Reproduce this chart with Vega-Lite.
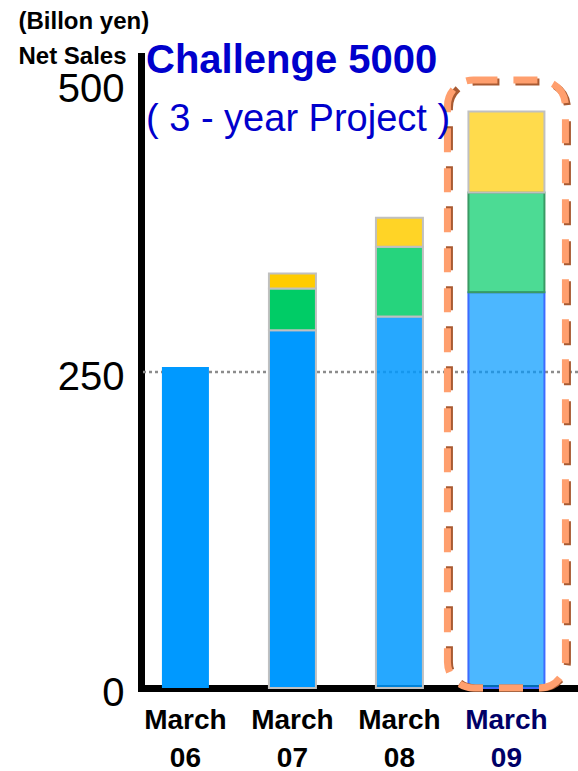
{
  "$schema": "https://vega.github.io/schema/vega-lite/v6.json",
  "width": 437,
  "height": 632,
  "autosize": {"type": "none"},
  "padding": {"left": 141, "top": 56, "right": 0, "bottom": 83},
  "background": "white",
  "config": {"view": {"stroke": null}, "font": "Liberation Sans"},
  "title": {
    "text": "Challenge 5000",
    "subtitle": "( 3 - year Project )",
    "anchor": "start",
    "frame": "group",
    "orient": "top",
    "offset": -130,
    "dx": 5,
    "font": "Liberation Sans",
    "fontSize": 40,
    "fontWeight": "bold",
    "color": "#0000CC",
    "subtitleFont": "Liberation Sans",
    "subtitleFontSize": 38,
    "subtitleFontWeight": "normal",
    "subtitleColor": "#0000CC",
    "subtitlePadding": 20
  },
  "datasets": {
    "sales": [
      {"period": "March 06", "segment": "Core", "phase": "actual", "value": 254},
      {"period": "March 07", "segment": "Core", "phase": "actual", "value": 283},
      {"period": "March 07", "segment": "Growth", "phase": "actual", "value": 33},
      {"period": "March 07", "segment": "New", "phase": "actual", "value": 12},
      {"period": "March 08", "segment": "Core", "phase": "estimate", "value": 294},
      {"period": "March 08", "segment": "Growth", "phase": "estimate", "value": 55},
      {"period": "March 08", "segment": "New", "phase": "estimate", "value": 23},
      {"period": "March 09", "segment": "Core", "phase": "target", "value": 313},
      {"period": "March 09", "segment": "Growth", "phase": "target", "value": 79},
      {"period": "March 09", "segment": "New", "phase": "target", "value": 64}
    ],
    "ref": [{"value": 250}],
    "focus": [{"period": "March 09", "value": 481, "bottom": 0}]
  },
  "layer": [
    {
      "data": {"name": "ref"},
      "mark": {"type": "rule", "color": "#8c8c8c", "strokeDash": [3, 3], "strokeWidth": 2.5},
      "encoding": {
        "y": {"field": "value", "type": "quantitative", "scale": {"domain": [0, 500], "nice": false}}
      }
    },
    {
      "data": {"name": "sales"},
      "mark": {"type": "bar"},
      "encoding": {
        "x": {
          "field": "period", "type": "nominal",
          "scale": {"domain": ["March 06", "March 07", "March 08", "March 09"], "paddingInner": 0.55, "paddingOuter": 0.317, "align": 0.3},
          "axis": {
            "title": null,
            "labelExpr": "split(datum.label, ' ')",
            "labelAngle": 0,
            "labelFont": "Liberation Sans",
            "labelFontSize": 28,
            "labelFontWeight": "bold",
            "labelColor": {"condition": {"test": "datum.value === 'March 09'", "value": "#000066"}, "value": "#000000"},
            "labelLineHeight": 38,
            "labelPadding": 18,
            "labelBaseline": "top",
            "ticks": false,
            "domainColor": "#000000",
            "domainWidth": 7,
            "domainCap": "square"
          }
        },
        "y": {
          "field": "value", "type": "quantitative", "stack": "zero",
          "scale": {"domain": [0, 500], "nice": false},
          "axis": {
            "values": [0, 250, 500],
            "ticks": false,
            "grid": false,
            "labelFont": "Liberation Sans",
            "labelFontSize": 40,
            "labelColor": "#000000",
            "labelPadding": 17,
            "labelOverlap": false,
            "labelOffset": {"condition": {"test": "datum.value === 500", "value": 33}, "value": 5},
            "domainColor": "#000000",
            "domainWidth": 7,
            "domainCap": "square",
            "title": ["(Billon yen)", "Net Sales"],
            "titleAngle": 0,
            "titleAlign": "left",
            "titleBaseline": "alphabetic",
            "titleX": -123,
            "titleY": -28,
            "titleFont": "Liberation Sans",
            "titleFontSize": 24,
            "titleFontWeight": "bold",
            "titleLineHeight": 35,
            "titleColor": "#000000"
          }
        },
        "order": {"field": "segment", "type": "nominal", "sort": "ascending"},
        "color": {
          "field": "segment", "type": "nominal",
          "scale": {"domain": ["Core", "Growth", "New"], "range": ["#0099FF", "#00CC66", "#FFCC00"]},
          "legend": null
        },
        "fillOpacity": {
          "field": "phase", "type": "nominal",
          "scale": {"domain": ["actual", "estimate", "target"], "range": [1, 0.7, 0.85]},
          "legend": null
        },
        "stroke": {
          "condition": [
            {"test": "datum.period === 'March 09' && datum.segment === 'Growth'", "value": "#3A9A64"},
            {"test": "datum.period === 'March 09' && datum.segment === 'Core'", "value": "#3D6BFF"}
          ],
          "value": "#C0C0C0"
        },
        "strokeWidth": {"condition": {"test": "datum.period === 'March 06'", "value": 0}, "value": 2},
        "size": {"condition": {"test": "datum.period === 'March 09'", "value": 76}, "value": 47}
      }
    },
    {
      "data": {"name": "focus"},
      "mark": {"type": "bar", "fill": "transparent", "stroke": "#A85A32", "strokeWidth": 7, "strokeDash": [24, 16], "cornerRadius": 26, "xOffset": 2, "yOffset": 2},
      "encoding": {
        "x": {"field": "period", "type": "nominal"},
        "y": {"field": "value", "type": "quantitative", "scale": {"domain": [0, 500], "nice": false}},
        "y2": {"field": "bottom"},
        "size": {"value": 118}
      }
    },
    {
      "data": {"name": "focus"},
      "mark": {"type": "bar", "fill": "transparent", "stroke": "#FF9F6E", "strokeWidth": 7, "strokeDash": [24, 16], "cornerRadius": 26},
      "encoding": {
        "x": {"field": "period", "type": "nominal"},
        "y": {"field": "value", "type": "quantitative", "scale": {"domain": [0, 500], "nice": false}},
        "y2": {"field": "bottom"},
        "size": {"value": 118}
      }
    }
  ]
}
